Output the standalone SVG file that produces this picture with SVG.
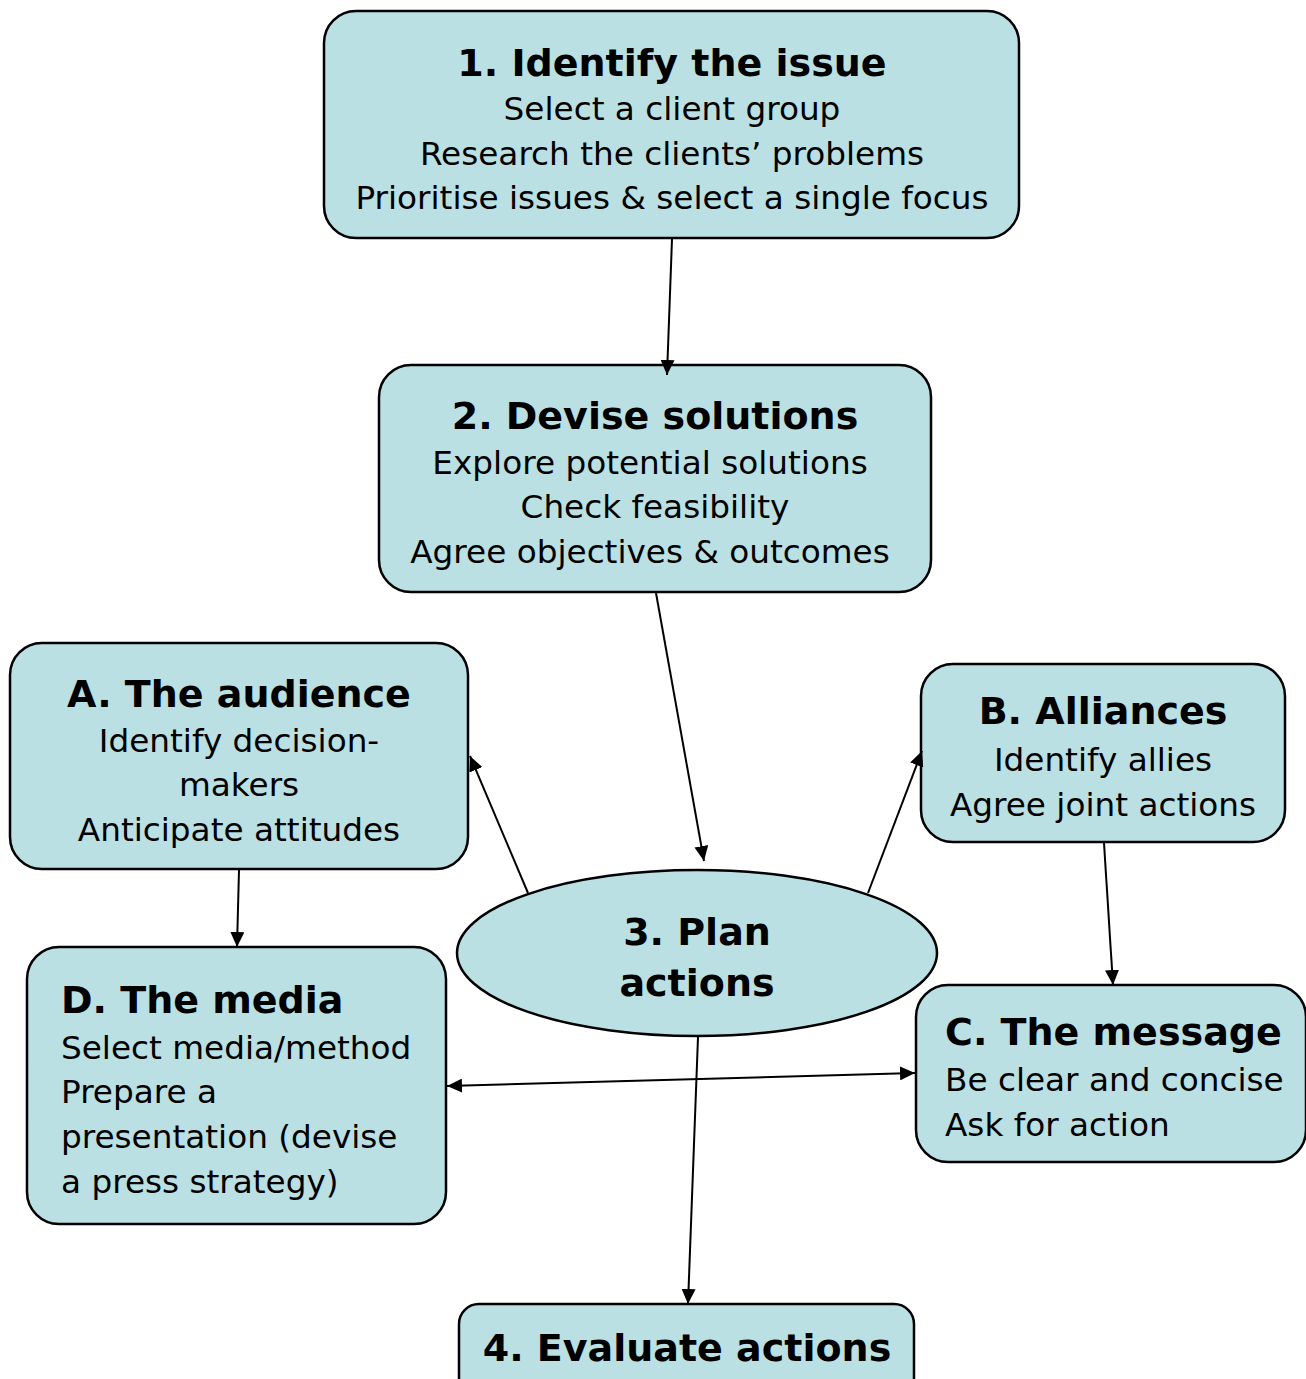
<svg xmlns="http://www.w3.org/2000/svg" width="1306" height="1379" viewBox="0 0 1306 1379">
<style>
.box{fill:#bae0e3;stroke:#000;stroke-width:2.5}
.t{font-family:"DejaVu Sans",Verdana,sans-serif;font-weight:bold;font-size:38px;fill:#000}
.b{font-family:"DejaVu Sans",Verdana,sans-serif;font-size:32.7px;fill:#000}
.c{text-anchor:middle}
.e{fill:none;stroke:#000;stroke-width:2}
</style>
<defs>
<marker id="ah" viewBox="0 0 15 14" refX="15" refY="7" markerWidth="15" markerHeight="14" markerUnits="userSpaceOnUse" orient="auto-start-reverse">
<path d="M0,0 L15,7 L0,14 z" fill="#000"/>
</marker>
</defs>
<rect width="1306" height="1379" fill="#fff"/>
<g id="n1">
<rect class="box" x="324" y="11" width="695" height="227" rx="32"/>
<text class="t c" x="672" y="76">1. Identify the issue</text>
<text class="b c" x="672" y="120">Select a client group</text>
<text class="b c" x="672" y="165">Research the clients’ problems</text>
<text class="b c" x="672" y="209">Prioritise issues &amp; select a single focus</text>
</g>
<g id="n2">
<rect class="box" x="379" y="365" width="552" height="227" rx="32"/>
<text class="t c" x="655" y="429">2. Devise solutions</text>
<text class="b c" x="650" y="474">Explore potential solutions</text>
<text class="b c" x="655" y="518">Check feasibility</text>
<text class="b c" x="650" y="563">Agree objectives &amp; outcomes</text>
</g>
<g id="nA">
<rect class="box" x="10" y="643" width="458" height="226" rx="32"/>
<text class="t c" x="239" y="707">A. The audience</text>
<text class="b c" x="239" y="752">Identify decision-</text>
<text class="b c" x="239" y="796">makers</text>
<text class="b c" x="239" y="841">Anticipate attitudes</text>
</g>
<g id="nB">
<rect class="box" x="921" y="664" width="364" height="178" rx="32"/>
<text class="t c" x="1103" y="724">B. Alliances</text>
<text class="b c" x="1103" y="771">Identify allies</text>
<text class="b c" x="1103" y="816">Agree joint actions</text>
</g>
<g id="n3">
<ellipse class="box" cx="697" cy="953" rx="240" ry="83"/>
<text class="t c" x="697" y="945">3. Plan</text>
<text class="t c" x="697" y="996">actions</text>
</g>
<g id="nD">
<rect class="box" x="27" y="947" width="419" height="277" rx="32"/>
<text class="t" x="61" y="1013">D. The media</text>
<text class="b" x="61" y="1059">Select media/method</text>
<text class="b" x="61" y="1103">Prepare a</text>
<text class="b" x="61" y="1148">presentation (devise</text>
<text class="b" x="61" y="1193">a press strategy)</text>
</g>
<g id="nC">
<rect class="box" x="916" y="985" width="390" height="177" rx="32"/>
<text class="t" x="945" y="1045">C. The message</text>
<text class="b" x="945" y="1091">Be clear and concise</text>
<text class="b" x="945" y="1136">Ask for action</text>
</g>
<g id="n4">
<rect class="box" x="459" y="1304" width="455" height="100" rx="20"/>
<text class="t c" x="687" y="1361">4. Evaluate actions</text>
</g>
<g id="connectors">
<line class="e" x1="672" y1="239" x2="667" y2="375" marker-end="url(#ah)"/>
<line class="e" x1="656" y1="593" x2="704" y2="861" marker-end="url(#ah)"/>
<line class="e" x1="528" y1="893" x2="470" y2="756" marker-end="url(#ah)"/>
<line class="e" x1="868" y1="893" x2="922" y2="751" marker-end="url(#ah)"/>
<line class="e" x1="239" y1="870" x2="237" y2="947" marker-end="url(#ah)"/>
<line class="e" x1="1104" y1="843" x2="1113" y2="985" marker-end="url(#ah)"/>
<line class="e" x1="698" y1="1037" x2="688" y2="1304" marker-end="url(#ah)"/>
<line class="e" x1="447" y1="1086" x2="915" y2="1073" marker-start="url(#ah)" marker-end="url(#ah)"/>
</g>
</svg>
